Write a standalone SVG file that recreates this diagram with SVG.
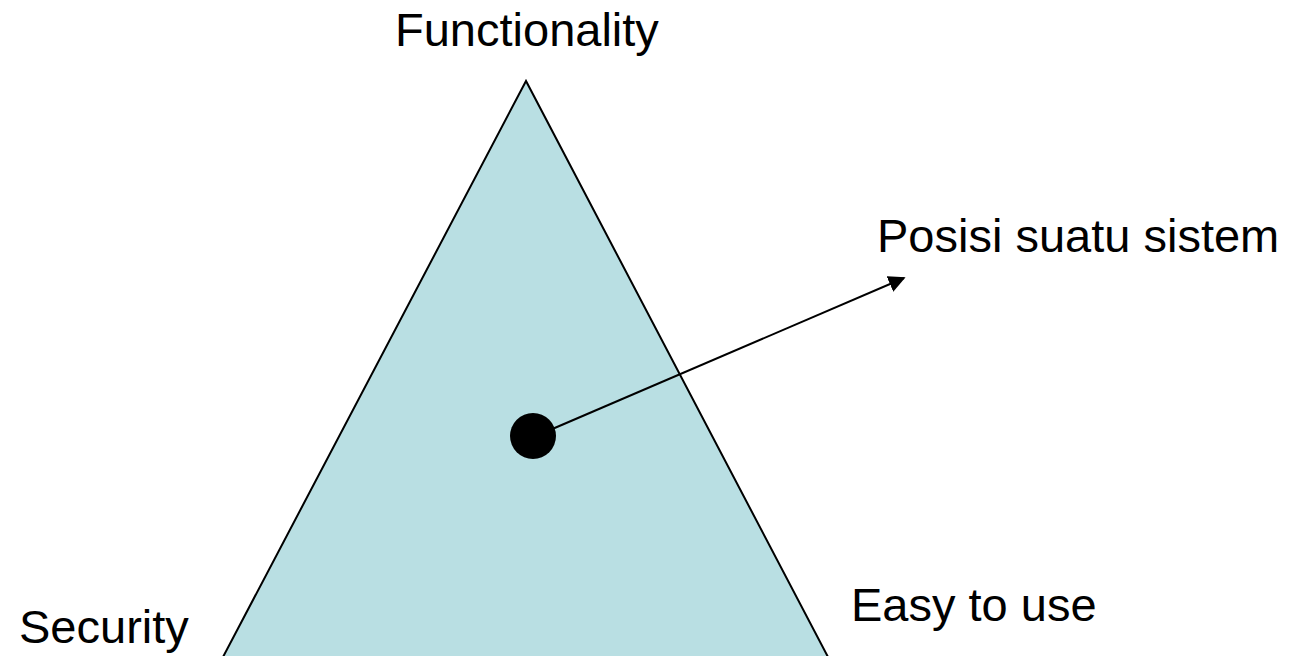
<svg xmlns="http://www.w3.org/2000/svg" width="1292" height="656" viewBox="0 0 1292 656">
<style>
.lbl{font-family:"Liberation Sans",Arial,sans-serif;font-size:47px;fill:#000}
</style>
<defs>
<marker id="ah" viewBox="0 0 10 10" refX="9" refY="5" markerWidth="17" markerHeight="17" markerUnits="userSpaceOnUse" orient="auto">
<path d="M0,0 L10,5 L0,10 z" fill="#000"/>
</marker>
</defs>
<rect width="1292" height="656" fill="#fff"/>
<g id="triangle">
<polygon points="526,81 223,657 828,657" fill="#b9dfe3" stroke="#000" stroke-width="2"/>
</g>
<g id="point">
<circle cx="533" cy="436" r="23" fill="#000"/>
</g>
<g id="connectors">
<line x1="550" y1="430" x2="904" y2="278" stroke="#000" stroke-width="2" marker-end="url(#ah)"/>
</g>
<g id="labels">
<text class="lbl" x="395" y="46">Functionality</text>
<text class="lbl" x="877" y="252">Posisi suatu sistem</text>
<text class="lbl" x="19" y="643">Security</text>
<text class="lbl" x="851" y="621">Easy to use</text>
</g>
</svg>
